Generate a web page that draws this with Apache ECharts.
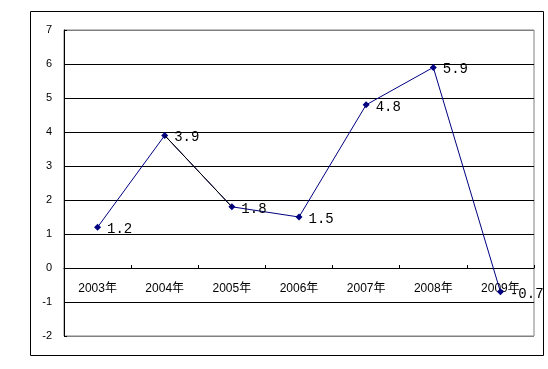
<!DOCTYPE html>
<html><head><meta charset="utf-8">
<script src="https://cdn.jsdelivr.net/npm/echarts@6/dist/echarts.min.js"></script>
<style>html,body{margin:0;padding:0;background:#fff}#c{width:548px;height:369px}</style>
</head><body><div id="c"></div>
<script>
const categories = ['2003年','2004年','2005年','2006年','2007年','2008年','2009年'];
const values = [1.2, 3.9, 1.8, 1.5, 4.8, 5.9, -0.7];
const yMin = -2, yMax = 7, yStep = 1;

const chart = echarts.init(document.getElementById('c'), null, {renderer:'canvas'});
const splitColors = [];
for (let v = yMin; v <= yMax; v += yStep) splitColors.push((v === yMin || v === yMax) ? '#808080' : '#000000');
const gridTop = 30, gridBottom = 33, plotH = 369 - gridTop - gridBottom;
const zeroOffset = -plotH * (0 - yMin) / (yMax - yMin);
// the 2004→2005 segment is drawn in black in the reference
const blackSeg = values.map((v, i) => (i === 1 || i === 2) ? v : null);
chart.setOption({
  animation: false,
  backgroundColor: '#fff',
  graphic: [{type:'rect', shape:{x:30.5,y:11.5,width:513,height:344}, style:{fill:'none',stroke:'#000',lineWidth:1}, z:-1}],
  grid: {left:64, top:gridTop, right:14, bottom:gridBottom, show:true, borderColor:'#808080', borderWidth:1, containLabel:false},
  xAxis: {
    type:'category', data:categories, boundaryGap:true, position:'bottom', offset: zeroOffset,
    axisLine:{onZero:false, lineStyle:{color:'#000',width:1}},
    axisTick:{show:true, inside:true, length:3, lineStyle:{color:'#000'}},
    axisLabel:{margin:15, fontSize:12, color:'#000', fontFamily:'Arial, "Liberation Sans", "Noto Sans CJK SC", sans-serif'},
    splitLine:{show:false}
  },
  yAxis: {
    type:'value', min:yMin, max:yMax, interval:yStep,
    axisLine:{show:true, lineStyle:{color:'#000'}},
    axisTick:{show:true, inside:true, length:3, lineStyle:{color:'#000'}},
    axisLabel:{margin:12, fontSize:11, color:'#000', fontFamily:'Arial, "Liberation Sans", sans-serif'},
    splitLine:{show:true, lineStyle:{color:splitColors, width:1}}
  },
  series: [{
    type:'line', data:values, z:2,
    symbol:'diamond', symbolSize:7,
    itemStyle:{color:'#000080'},
    lineStyle:{color:'#000080', width:1},
    label:{show:true, position:'right', distance:6, offset:[0,2], color:'#000', fontSize:14, fontFamily:'"Liberation Mono", "DejaVu Sans Mono", monospace'}
  },{
    type:'line', data:blackSeg, z:3, connectNulls:false,
    symbol:'none', silent:true,
    lineStyle:{color:'#000000', width:1},
    label:{show:false}
  }]
});
</script></body></html>
